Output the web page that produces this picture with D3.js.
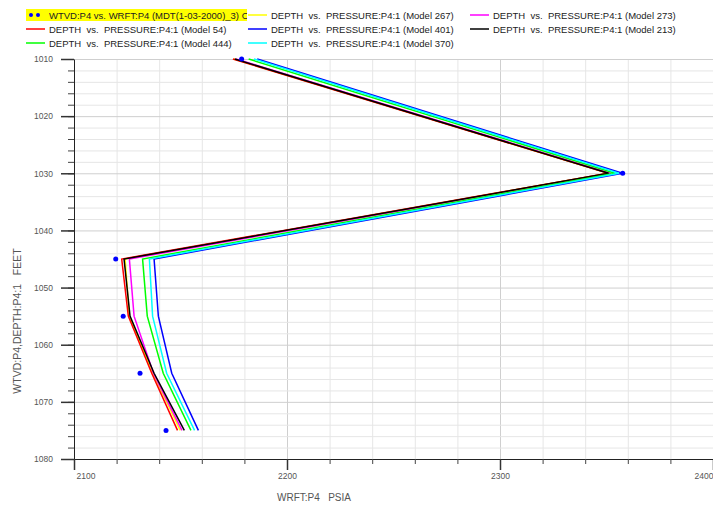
<!DOCTYPE html>
<html>
<head>
<meta charset="utf-8">
<script src="https://cdn.jsdelivr.net/npm/d3@7"></script>
<style>
  body { margin: 0; background: #fff; }
  text { font-family: "Liberation Sans", Arial, sans-serif; }
</style>
</head>
<body>
<script>
width = 713;
height = 508;

// depths shared by every series (feet)
const depths = [1010, 1030, 1045, 1055, 1065, 1075];

// observed WRFT pressures (psia)
const obsPressure = [2178.7, 2357.6, 2119.6, 2123.1, 2131.0, 2143.2];

// model pressures (psia), in legend order
const modelNames = ["Model 267", "Model 273", "Model 54", "Model 401", "Model 213", "Model 444", "Model 370"];
const modelColors = ["#ffff00", "#ff00ff", "#ff0000", "#0000ff", "#000000", "#00ff00", "#00ffff"];
const model267 = [2175.0, 2351.0, 2124.0, 2126.0, 2137.0, 2149.9];
const model273 = [2176.0, 2352.0, 2126.0, 2128.2, 2137.3, 2150.7];
const model54  = [2174.6, 2350.8, 2122.4, 2125.5, 2136.5, 2148.6];
const model401 = [2186.0, 2357.5, 2137.6, 2139.6, 2145.9, 2158.4];
const model213 = [2175.5, 2351.0, 2123.5, 2126.3, 2137.6, 2151.8];
const model444 = [2182.0, 2354.0, 2132.2, 2134.4, 2141.9, 2154.9];
const model370 = [2184.5, 2355.9, 2135.4, 2136.9, 2143.5, 2156.6];
const modelValues = [model267, model273, model54, model401, model213, model444, model370];

const xMajor = [2100, 2200, 2300, 2400];
const yMajor = [1010, 1020, 1030, 1040, 1050, 1060, 1070, 1080];

const obsLabel = "WTVD:P4 vs. WRFT:P4 (MDT(1-03-2000)_3) Observed";
const xTitle = "WRFT:P4   PSIA";
const yTitle = "WTVD:P4,DEPTH:P4:1   FEET";

const svg = d3.select('body')
            .append('svg')
            .attr('width', width)
            .attr('height', height)
            .attr('viewBox', [0, 0, width, height]);

const x = d3.scaleLinear().domain([2100, 2400]).range([74, 713]);
const y = d3.scaleLinear().domain([1010, 1080]).range([59, 459]);

const xMinor = d3.range(2100, 2401, 20);
const yMinor = d3.range(1010, 1081, 2);

// grid
svg.append('g')
    .attr('transform', `translate(0,${y(1080)})`)
    .call(d3.axisBottom(x).tickValues(xMinor).tickSize(-(y(1080) - y(1010))).tickFormat(''))
    .call(g => g.select('.domain').remove())
    .call(g => g.selectAll('line').attr('stroke', d => xMajor.includes(d) ? '#cfcfcf' : '#e6e6e6'));

svg.append('g')
    .attr('transform', `translate(${x(2100)},0)`)
    .call(d3.axisLeft(y).tickValues(yMinor).tickSize(-(x(2400) - x(2100))).tickFormat(''))
    .call(g => g.select('.domain').remove())
    .call(g => g.selectAll('line').attr('stroke', d => yMajor.includes(d) ? '#cfcfcf' : '#e6e6e6'));

// axes: minor ticks
svg.append('g')
    .attr('transform', `translate(0,${y(1080)})`)
    .call(d3.axisBottom(x).tickValues(xMinor).tickSize(5).tickFormat('').tickSizeOuter(0))
    .call(g => g.select('.domain').attr('stroke', '#222'))
    .call(g => g.selectAll('line').attr('stroke', '#444'));

svg.append('g')
    .attr('transform', `translate(${x(2100)},0)`)
    .call(d3.axisLeft(y).tickValues(yMinor).tickSize(6).tickFormat('').tickSizeOuter(0))
    .call(g => g.select('.domain').attr('stroke', '#222'))
    .call(g => g.selectAll('line').attr('stroke', '#444'));

// axes: major ticks + labels
svg.append('g')
    .attr('transform', `translate(0,${y(1080)})`)
    .call(d3.axisBottom(x).tickValues(xMajor).tickSize(11).tickPadding(3).tickFormat(d3.format('d')))
    .call(g => g.select('.domain').remove())
    .call(g => g.selectAll('line').attr('stroke', '#333').attr('stroke-width', 1.5))
    .call(g => g.selectAll('text')
        .attr('fill', '#555')
        .attr('font-size', 8.5)
        .attr('text-anchor', (d, i) => i === 0 ? 'start' : (i === xMajor.length - 1 ? 'end' : 'middle'))
        .attr('dx', (d, i) => i === 0 ? 2 : 0));

svg.append('g')
    .attr('transform', `translate(${x(2100)},0)`)
    .call(d3.axisLeft(y).tickValues(yMajor).tickSize(13).tickPadding(8).tickFormat(d3.format('d')))
    .call(g => g.select('.domain').remove())
    .call(g => g.selectAll('line').attr('stroke', '#333').attr('stroke-width', 1.5))
    .call(g => g.selectAll('text').attr('fill', '#555').attr('font-size', 8.5));

// axis titles
svg.append('text')
    .attr('x', 314).attr('y', 501)
    .attr('text-anchor', 'middle')
    .attr('font-size', 10)
    .attr('fill', '#555')
    .style('white-space', 'pre')
    .text(xTitle);

svg.append('text')
    .attr('transform', 'translate(21,321) rotate(-90)')
    .attr('text-anchor', 'middle')
    .attr('font-size', 10.5)
    .attr('fill', '#555')
    .style('white-space', 'pre')
    .text(yTitle);

// model curves
const line = d3.line()
    .x(d => x(d[1]))
    .y(d => y(d[0]));

modelValues.forEach((vals, i) => {
    svg.append('path')
        .datum(depths.map((dep, j) => [dep, vals[j]]))
        .attr('fill', 'none')
        .attr('stroke', modelColors[i])
        .attr('stroke-width', 1.5)
        .attr('d', line);
});

// observed points
svg.selectAll('circle.obs')
    .data(depths.map((dep, j) => [dep, obsPressure[j]]))
    .enter()
    .append('circle')
    .attr('class', 'obs')
    .attr('cx', d => x(d[1]))
    .attr('cy', d => y(d[0]))
    .attr('r', 2.5)
    .attr('fill', '#0000ff');

// legend
const legendItems = [{ label: obsLabel, obs: true }]
    .concat(modelNames.map((m, i) => ({ label: `DEPTH  vs.  PRESSURE:P4:1 (${m})`, color: modelColors[i] })));
const colX = [26, 248, 470];
const rowY = [15, 29, 43];

svg.append('clipPath').attr('id', 'obsclip')
    .append('rect').attr('x', 0).attr('y', 0).attr('width', 247).attr('height', 30);

const leg = svg.selectAll('g.leg')
    .data(legendItems)
    .enter()
    .append('g')
    .attr('class', 'leg')
    .attr('transform', (d, i) => `translate(${colX[i % 3]},${rowY[Math.floor(i / 3)]})`);

leg.filter(d => d.obs).each(function () {
    const g = d3.select(this);
    g.attr('clip-path', 'url(#obsclip)');
    g.append('rect').attr('x', 0).attr('y', -6).attr('width', 230).attr('height', 12).attr('fill', '#ffff00');
    g.selectAll('circle').data([5, 12]).enter().append('circle')
        .attr('cx', d => d).attr('cy', 0).attr('r', 2).attr('fill', '#0000ff');
});
svg.select('#obsclip rect').attr('x', -26).attr('y', -10).attr('width', 247).attr('height', 20);

leg.filter(d => !d.obs).append('line')
    .attr('x1', 0).attr('x2', 19).attr('y1', 0).attr('y2', 0)
    .attr('stroke', d => d.color).attr('stroke-width', 1.5);

leg.append('text')
    .attr('x', 23)
    .attr('y', 3.5)
    .attr('font-size', 9.5)
    .attr('fill', '#222')
    .style('white-space', 'pre')
    .text(d => d.label);
</script>
</body>
</html>
